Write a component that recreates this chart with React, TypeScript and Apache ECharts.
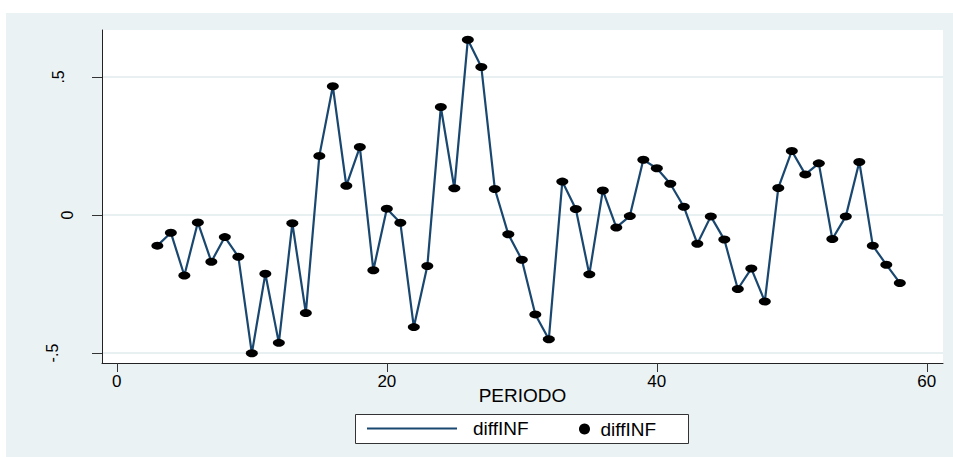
import React, { useEffect, useRef } from "react";
import * as echarts from "echarts";

const periods = [
  3, 4, 5, 6, 7, 8, 9, 10, 11, 12, 13, 14, 15, 16, 17, 18, 19, 20, 21, 22,
  23, 24, 25, 26, 27, 28, 29, 30, 31, 32, 33, 34, 35, 36, 37, 38, 39, 40,
  41, 42, 43, 44, 45, 46, 47, 48, 49, 50, 51, 52, 53, 54, 55, 56, 57, 58,
];
const diffINF = [
  -0.111, -0.064, -0.219, -0.027, -0.169, -0.08, -0.151, -0.501, -0.213,
  -0.463, -0.03, -0.355, 0.214, 0.466, 0.106, 0.246, -0.2, 0.023, -0.028,
  -0.406, -0.185, 0.391, 0.097, 0.635, 0.536, 0.094, -0.07, -0.162, -0.36,
  -0.45, 0.121, 0.022, -0.215, 0.089, -0.045, -0.004, 0.2, 0.169, 0.113,
  0.03, -0.104, -0.005, -0.089, -0.268, -0.194, -0.313, 0.098, 0.232, 0.147,
  0.187, -0.087, -0.005, 0.192, -0.111, -0.18, -0.246,
];
const xTicks = [0, 20, 40, 60];
const yTicks = [-0.5, 0, 0.5];
const yTickLabels = ["-.5", "0", ".5"];
const yTickStyles = ["m", "z", "p"];

const FONT = "Liberation Sans, Arial, sans-serif";

export default function App() {
  const ref = useRef<HTMLDivElement>(null);

  useEffect(() => {
    if (!ref.current) return;
    const chart = echarts.init(ref.current, undefined, { renderer: "svg" });
    const pts = periods.map((p, i) => [p, diffINF[i]]);
    const labelBase = { fontSize: 16, color: "#000", fontFamily: FONT };
    chart.setOption({
      animation: false,
      backgroundColor: "#eaf2f3",
      textStyle: { fontFamily: FONT },
      grid: {
        left: 102,
        top: 30,
        right: 10,
        bottom: 94,
        show: true,
        backgroundColor: "#ffffff",
        borderWidth: 0,
      },
      xAxis: {
        type: "value",
        min: -1.1,
        max: 61.2,
        name: "PERIODO",
        nameLocation: "middle",
        nameGap: 23,
        nameMoveOverlap: false,
        nameTextStyle: { fontSize: 19, color: "#000", fontFamily: FONT },
        axisLine: { show: true, onZero: false, lineStyle: { color: "#222", width: 1 } },
        axisTick: {
          show: true,
          length: 9,
          customValues: xTicks,
          lineStyle: { color: "#333" },
        },
        axisLabel: {
          customValues: xTicks,
          fontSize: 17,
          color: "#000",
          margin: 10,
          fontFamily: FONT,
        },
        splitLine: { show: false },
      },
      yAxis: {
        type: "value",
        min: -0.536,
        max: 0.67,
        axisLine: { show: true, onZero: false, lineStyle: { color: "#222", width: 1 } },
        axisTick: {
          show: true,
          length: 10,
          customValues: yTicks,
          lineStyle: { color: "#333" },
        },
        axisLabel: {
          customValues: yTicks,
          rotate: 90,
          fontSize: 16,
          color: "#000",
          margin: 27,
          fontFamily: FONT,
          formatter: (v: number) => {
            const i = yTicks.findIndex((t) => Math.abs(t - v) < 1e-9);
            return i >= 0 ? `{${yTickStyles[i]}|${yTickLabels[i]}}` : "";
          },
          rich: {
            z: { ...labelBase },
            p: { ...labelBase, padding: [0, 0, 9, 0] },
            m: { ...labelBase, padding: [0, 0, 15, 0] },
          },
        },
        splitLine: { show: false },
      },
      legend: [
        {
          data: [{ name: "diffINF", icon: "rect" }],
          left: 367,
          top: 419,
          itemWidth: 90,
          itemHeight: 2,
          padding: 0,
          formatter: () => "diffINF",
          textStyle: { fontSize: 19, color: "#000", fontFamily: FONT, padding: [0, 0, 0, 11] },
        },
        {
          data: [{ name: "diffINF points", icon: "circle" }],
          left: 579,
          top: 419.5,
          itemWidth: 22,
          itemHeight: 11,
          padding: 0,
          formatter: () => "diffINF",
          textStyle: { fontSize: 19, color: "#000", fontFamily: FONT },
        },
      ],
      graphic: [
        { type: "rect", shape: { x: 0, y: 0, width: 953, height: 13 }, style: { fill: "#ffffff" }, silent: true },
        { type: "rect", shape: { x: 0, y: 0, width: 6, height: 457 }, style: { fill: "#ffffff" }, silent: true },
        {
          type: "rect",
          z: -1,
          shape: { x: 355.5, y: 414.5, width: 333, height: 29 },
          style: { fill: "#ffffff", stroke: "#333333", lineWidth: 1 },
          silent: true,
        },
      ],
      series: [
        {
          name: "grid",
          type: "line",
          data: [],
          z: 1,
          silent: true,
          markLine: {
            silent: true,
            z: 0,
            symbol: "none",
            label: { show: false },
            lineStyle: { color: "#e8f0f1", width: 2, type: "solid" },
            data: yTicks.map((t) => ({ yAxis: t })),
          },
        },
        {
          name: "diffINF",
          type: "line",
          data: pts,
          z: 3,
          symbol: "none",
          showSymbol: false,
          lineStyle: { color: "#1a476f", width: 2.2 },
          itemStyle: { color: "#1a476f" },
        },
        {
          name: "diffINF points",
          type: "scatter",
          data: pts,
          z: 4,
          symbol: "circle",
          symbolSize: [12, 8],
          itemStyle: { color: "#000000", opacity: 1 },
        },
      ],
    });
    return () => chart.dispose();
  }, []);

  return (
    <div
      ref={ref}
      style={{ position: "absolute", left: 0, top: 0, width: 953, height: 457 }}
    />
  );
}
